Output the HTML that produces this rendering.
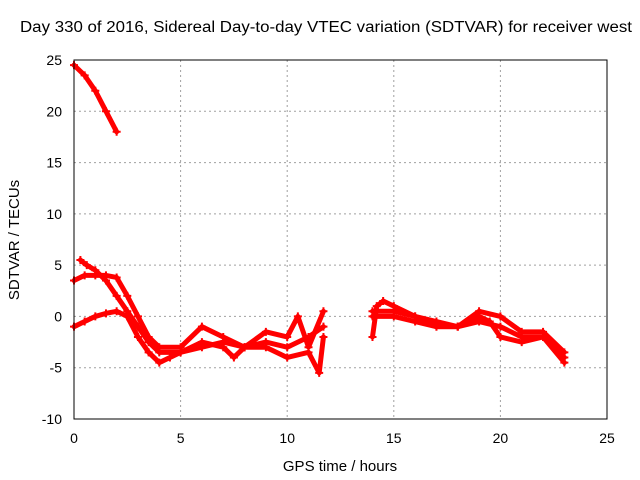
<!DOCTYPE html>
<html><head><meta charset="utf-8"><style>
body{margin:0;background:#fff}
svg{display:block;font-family:"Liberation Sans",sans-serif;font-size:14px}
</style></head><body>
<svg id="c" width="640" height="480">
<text x="20" y="32" textLength="612" lengthAdjust="spacingAndGlyphs" style="font-size:15.5px">Day 330 of 2016, Sidereal Day-to-day VTEC variation (SDTVAR) for receiver west</text>
<text x="340" y="471" text-anchor="middle" style="font-size:15px">GPS time / hours</text>
<text transform="translate(19,240) rotate(-90)" text-anchor="middle" style="font-size:15px">SDTVAR / TECUs</text>
<g id="grid"></g><g id="ticks"></g><g id="series"></g>
<rect x="74" y="60" width="533" height="359" fill="none" stroke="#000"/>
</svg>
<script>
const xTicks=[0,5,10,15,20,25];
const yTicks=[-10,-5,0,5,10,15,20,25];
const sA=[[0,24.5],[0.5,23.5],[1,22],[1.5,20],[2,18]];
const sB=[[0.3,5.5],[0.6,5],[1,4.5],[1.5,3.5],[2,2],[2.5,0.5],[3,-1],[3.5,-2.5],[4,-3.5],[5,-3.5],[6,-3],[7,-2.5],[8,-3],[9,-2.5],[10,-3],[11,-2],[11.7,-1]];
const sC=[[0,3.5],[0.5,4],[1,4],[1.5,4],[2,3.8],[2.5,2],[3,0],[3.5,-2],[4,-3],[5,-3],[6,-1],[7,-2],[8,-3],[9,-1.5],[10,-2],[10.5,0],[11,-3],[11.7,0.5]];
const sD=[[0,-1],[0.5,-0.5],[1,0],[1.5,0.3],[2,0.5],[2.5,0],[3,-2],[3.5,-3.5],[4,-4.5],[4.5,-4],[5,-3.5],[6,-2.5],[7,-3],[7.5,-4],[8,-3],[9,-3],[10,-4],[11,-3.5],[11.5,-5.5],[11.7,-2]];
const sE=[[14,-2],[14.2,1],[14.5,1.5],[15,1],[16,0],[17,-0.5],[18,-1],[19,0.5],[20,0],[21,-1.5],[22,-1.5],[23,-3.5]];
const sF=[[14,0.5],[15,0.5],[16,0],[17,-1],[18,-1],[19,-0.5],[20,-1],[21,-2],[22,-2],[23,-4]];
const sG=[[14,0],[15,0],[16,-0.5],[17,-1],[18,-1],[19,0],[19.5,-0.5],[20,-2],[21,-2.5],[22,-2],[23,-4.5]];
const allSeries=[sA,sB,sC,sD,sE,sF,sG];
const X=v=>74+v*(533/25);
const Y=v=>419-(v+10)*(359/35);
const NS="http://www.w3.org/2000/svg";
function mk(t,a,p){const e=document.createElementNS(NS,t);for(const k in a)e.setAttribute(k,a[k]);p.appendChild(e);return e;}
const g=document.getElementById('grid'),tk=document.getElementById('ticks'),sg=document.getElementById('series');
xTicks.forEach(v=>{
 if(v>0&&v<25){const l=mk('line',{x1:X(v),x2:X(v),y1:60,y2:419,stroke:'#a0a0a0','stroke-dasharray':'2,3'},g);
 }
 const t=mk('text',{x:X(v),y:443,'text-anchor':'middle'},tk);t.textContent=v;
 
});
yTicks.forEach(v=>{
 if(v>-10&&v<25){const l=mk('line',{x1:74,x2:607,y1:Y(v),y2:Y(v),stroke:'#a0a0a0','stroke-dasharray':'2,3'},g);
 }
 const t=mk('text',{x:62,y:Y(v)+5,'text-anchor':'end'},tk);t.textContent=v;
 
});
allSeries.forEach(s=>{
 const pl=mk('polyline',{points:s.map(p=>X(p[0])+','+Y(p[1])).join(' '),fill:'none',stroke:'#f00','stroke-width':5,'stroke-linejoin':'round','stroke-linecap':'round'},sg);
 
 s.forEach(p=>{const m=mk('path',{d:`M${X(p[0])-4},${Y(p[1])}h8M${X(p[0])},${Y(p[1])-4}v8`,stroke:'#f00','stroke-width':2},sg);
 });
});
</script>
</body></html>
